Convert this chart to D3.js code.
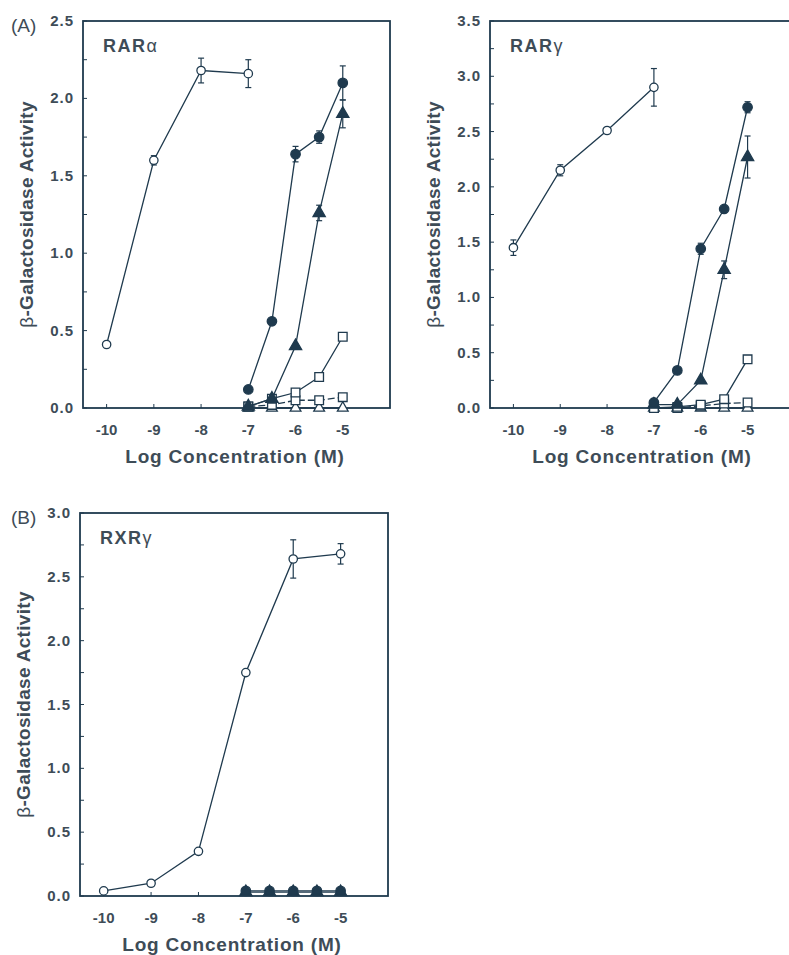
<!DOCTYPE html>
<html>
<head>
<meta charset="utf-8">
<script src="https://cdn.jsdelivr.net/npm/d3@7"></script>
<style>
  body { margin: 0; background: #fff; }
  svg { display: block; font-family: "Liberation Sans", Arial, sans-serif; }
</style>
</head>
<body>
<svg id="chart" width="789" height="955"></svg>
<script>
"use strict";

// x values (log M)
const xLow = [-10, -9, -8, -7];
const xHigh = [-7, -6.5, -6, -5.5, -5];
const xAll = [-10, -9, -8, -7, -6, -5];
const xTicks = [-10, -9, -8, -7, -6, -5];

// RARα
const rarA_open = [0.41, 1.60, 2.18, 2.16];
const rarA_openErr = [0, 0.03, 0.08, 0.09];
const rarA_circ = [0.12, 0.56, 1.64, 1.75, 2.10];
const rarA_circErr = [0, 0, 0.05, 0.04, 0.11];
const rarA_tri = [0.01, 0.06, 0.40, 1.26, 1.90];
const rarA_triErr = [0, 0, 0, 0.05, 0.09];
const rarA_sq1 = [0.01, 0.06, 0.10, 0.20, 0.46];
const rarA_sq2 = [0.01, 0.02, 0.05, 0.05, 0.07];
const rarA_otri = [0, 0, 0, 0, 0];

// RARγ
const rarG_open = [1.45, 2.15, 2.51, 2.90];
const rarG_openErr = [0.07, 0.05, 0, 0.17];
const rarG_circ = [0.05, 0.34, 1.44, 1.80, 2.72];
const rarG_circErr = [0, 0, 0.05, 0, 0.05];
const rarG_tri = [0.03, 0.03, 0.25, 1.25, 2.27];
const rarG_triErr = [0, 0, 0, 0.08, 0.19];
const rarG_sq1 = [0.0, 0.01, 0.03, 0.08, 0.44];
const rarG_sq2 = [0.0, 0.0, 0.02, 0.04, 0.05];
const rarG_otri = [0, 0, 0, 0, 0];

// RXRγ
const rxrG_open = [0.04, 0.10, 0.35, 1.75, 2.64, 2.68];
const rxrG_openErr = [0, 0, 0, 0, 0.15, 0.08];
const rxrG_circ = [0.04, 0.04, 0.04, 0.04, 0.04];
const rxrG_tri = [0.03, 0.03, 0.03, 0.03, 0.03];

const INK = "#1f3a4e";
const TXT = "#3e4c57";

const svg = d3.select("#chart");

function zip(xs, ys, es) {
    return xs.map((x, i) => ({ x: x, y: ys[i], e: es ? es[i] : 0 }));
}

/**
 * one panel
 */
function drawPanel(p) {
    const x = d3.scaleLinear().domain([-10.5, -4]).range([p.left, p.right]);
    const y = d3.scaleLinear().domain([0, p.ymax]).range([p.bottom, p.top]);
    const g = svg.append("g");

    // frame
    g.append("rect")
        .attr("x", p.left).attr("y", p.top)
        .attr("width", p.right - p.left).attr("height", p.bottom - p.top)
        .attr("fill", "none").attr("stroke", INK).attr("stroke-width", 1.8);

    // inward ticks
    const yMinor = d3.range(0, p.ymax + 0.001, 0.25);
    g.selectAll(".ytk").data(yMinor).enter().append("line")
        .attr("x1", p.left).attr("x2", p.left + 4)
        .attr("y1", d => y(d)).attr("y2", d => y(d))
        .attr("stroke", INK).attr("stroke-width", 1);
    g.selectAll(".xtk").data(xTicks).enter().append("line")
        .attr("x1", d => x(d)).attr("x2", d => x(d))
        .attr("y1", p.bottom).attr("y2", p.bottom - 4)
        .attr("stroke", INK).attr("stroke-width", 1);

    // tick labels
    const yMajor = d3.range(0, p.ymax + 0.001, 0.5);
    g.selectAll(".ylab").data(yMajor).enter().append("text")
        .attr("x", p.left - 9).attr("y", d => y(d) + 5)
        .attr("text-anchor", "end")
        .attr("fill", TXT).style("font-size", "15px").style("font-weight", "bold")
        .style("letter-spacing", "1px")
        .text(d => d.toFixed(1));
    g.selectAll(".xlab").data(xTicks).enter().append("text")
        .attr("x", d => x(d)).attr("y", p.bottom + 27)
        .attr("text-anchor", "middle")
        .attr("fill", TXT).style("font-size", "15px").style("font-weight", "bold")
        .text(d => d);

    // axis titles
    g.append("text")
        .attr("x", p.left + 152).attr("y", p.bottom + 55)
        .attr("text-anchor", "middle")
        .attr("fill", TXT).style("font-size", "19px").style("font-weight", "bold")
        .style("letter-spacing", "0.8px")
        .text("Log Concentration (M)");
    const yt = g.append("text")
        .attr("transform", "translate(" + (p.left - 50) + "," + ((p.top + p.bottom) / 2) + ") rotate(-90)")
        .attr("text-anchor", "middle")
        .attr("fill", TXT).style("font-size", "19px").style("font-weight", "bold")
        .style("letter-spacing", "0.3px");
    yt.append("tspan").style("font-weight", "normal").text("β");
    yt.append("tspan").text("-Galactosidase Activity");

    // receptor name
    const nm = g.append("text")
        .attr("x", p.left + 20).attr("y", p.top + 31)
        .attr("fill", TXT).style("font-size", "18px").style("font-weight", "bold")
        .style("letter-spacing", "1.5px");
    nm.append("tspan").text(p.name.slice(0, 3));
    nm.append("tspan").style("font-weight", "normal").text(p.name.slice(3));

    // panel tag
    if (p.tag) {
        g.append("text")
            .attr("x", 11).attr("y", p.top + 11)
            .attr("fill", TXT).style("font-size", "19px")
            .text(p.tag);
    }

    const line = d3.line().x(d => x(d.x)).y(d => y(d.y));

    p.series.forEach(s => {
        const pts = zip(s.xs, s.ys, s.err);
        g.append("path").datum(pts)
            .attr("d", line)
            .attr("fill", "none").attr("stroke", INK).attr("stroke-width", 1.3)
            .attr("stroke-dasharray", s.dash || null);
    });

    p.series.forEach(s => {
        const pts = zip(s.xs, s.ys, s.err);
        const eb = g.selectAll(null).data(pts.filter(d => d.e > 0)).enter().append("g");
        eb.append("line")
            .attr("x1", d => x(d.x)).attr("x2", d => x(d.x))
            .attr("y1", d => y(d.y - d.e)).attr("y2", d => y(d.y + d.e))
            .attr("stroke", INK).attr("stroke-width", 1.2);
        [-1, 1].forEach(k => {
            eb.append("line")
                .attr("x1", d => x(d.x) - 3).attr("x2", d => x(d.x) + 3)
                .attr("y1", d => y(d.y + k * d.e)).attr("y2", d => y(d.y + k * d.e))
                .attr("stroke", INK).attr("stroke-width", 1.2);
        });
    });

    p.series.forEach(s => {
        const pts = zip(s.xs, s.ys, s.err);
        const sym = d3.symbol().type(s.shape).size(s.size);
        g.selectAll(null).data(pts).enter().append("path")
            .attr("d", sym)
            .attr("transform", d => "translate(" + x(d.x) + "," + y(d.y) + ")")
            .attr("fill", s.filled ? INK : "#fff")
            .attr("stroke", INK).attr("stroke-width", 1.3);
    });
}

function seriesSet(open, openErr, openX, circ, circErr, tri, triErr, sq1, sq2, otri) {
    const list = [];
    if (otri) list.push({ xs: xHigh, ys: otri, shape: d3.symbolTriangle, size: 50, filled: false });
    if (sq2) list.push({ xs: xHigh, ys: sq2, shape: d3.symbolSquare, size: 75, filled: false, dash: "7,3" });
    if (sq1) list.push({ xs: xHigh, ys: sq1, shape: d3.symbolSquare, size: 75, filled: false });
    list.push({ xs: xHigh, ys: tri, err: triErr, shape: d3.symbolTriangle, size: 65, filled: true });
    list.push({ xs: xHigh, ys: circ, err: circErr, shape: d3.symbolCircle, size: 70, filled: true });
    list.push({ xs: openX, ys: open, err: openErr, shape: d3.symbolCircle, size: 55, filled: false });
    return list;
}

drawPanel({
    tag: "(A)", name: "RARα", left: 83, right: 390, top: 21, bottom: 408, ymax: 2.5,
    series: seriesSet(rarA_open, rarA_openErr, xLow, rarA_circ, rarA_circErr, rarA_tri, rarA_triErr, rarA_sq1, rarA_sq2, rarA_otri)
});
drawPanel({
    tag: null, name: "RARγ", left: 490, right: 794.4, top: 21, bottom: 408, ymax: 3.5,
    series: seriesSet(rarG_open, rarG_openErr, xLow, rarG_circ, rarG_circErr, rarG_tri, rarG_triErr, rarG_sq1, rarG_sq2, rarG_otri)
});
drawPanel({
    tag: "(B)", name: "RXRγ", left: 80, right: 388, top: 513, bottom: 896, ymax: 3.0,
    series: seriesSet(rxrG_open, rxrG_openErr, xAll, rxrG_circ, null, rxrG_tri, null, null, null, null)
});
</script>
</body>
</html>
